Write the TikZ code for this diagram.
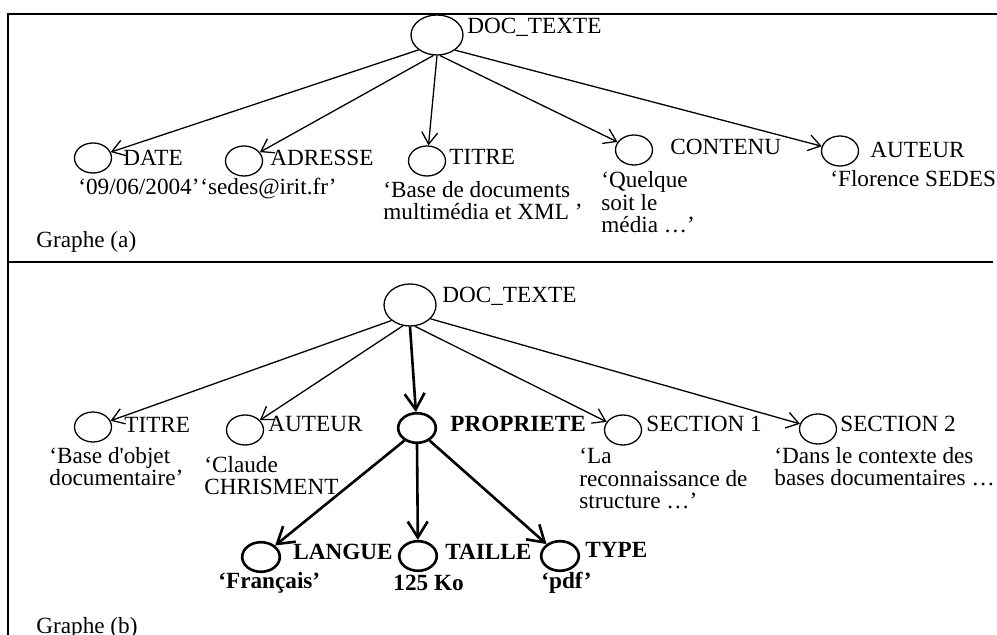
\documentclass[tikz,border=0pt]{standalone}
\usepackage{fontspec}
\setmainfont{Liberation Serif}
\usetikzlibrary{shapes.geometric,arrows.meta,positioning}
\begin{document}
\begin{tikzpicture}[x=0.5pt,y=-0.5pt,
  font=\fontsize{11.6}{11.4}\selectfont,
  obj/.style={draw,ellipse,line width=.65pt,inner sep=0pt,
    minimum width=18.5pt,minimum height=15pt},
  racine/.style={obj,minimum width=26pt,minimum height=20pt},
  prop/.style={obj,line width=1.3pt,minimum width=18.8pt,minimum height=14.8pt},
  txt/.style={inner sep=0pt,anchor=base west,align=left},
  txtgras/.style={txt,font=\fontsize{11.6}{11.4}\selectfont\bfseries},
  arc/.style={line width=.65pt,-{Straight Barb[length=6pt,width=8pt]}},
  arcfort/.style={line width=1.3pt,-{Straight Barb[length=8pt,width=10pt]}}]
  \useasboundingbox (0,0) rectangle (997,635);
  \draw[line width=1pt] (997,14) -- (8,14) -- (8,640);
  \draw[line width=1pt] (8,262) -- (993,262);
  % Graphe (a)
  \node[racine] (docA) at (437,35) {};
  \node[txt] (docAtxt) at (467,34) {DOC\_TEXTE};
  \node[obj] (date) at (93,158) {};
  \node[txt] (datetxt) at (123,166) {DATE};
  \node[txt] (dateval) at (78,195) {‘09/06/2004’};
  \node[obj] (adresse) at (244,161) {};
  \node[txt] (adressetxt) at (270,166) {ADRESSE};
  \node[txt] (adresseval) at (200,195) {‘sedes@irit.fr’};
  \node[obj] (titreA) at (427,161) {};
  \node[txt] (titreAtxt) at (449,165) {TITRE};
  \node[txt] (titreAval) at (383,220) {‘Base de documents\\multimédia et XML ’};
  \node[obj] (contenu) at (634,150) {};
  \node[txt] (contenutxt) at (670,155) {CONTENU};
  \node[txt] (contenuval) at (601,233) {‘Quelque\\soit le\\média …’};
  \node[obj] (auteurA) at (840,151) {};
  \node[txt] (auteurAtxt) at (870,158) {AUTEUR};
  \node[txt] (auteurAval) at (830,187) {‘Florence SEDES’};
  \node[txt] (grapheA) at (36,248) {Graphe (a)};
  \draw[arc] (docA.219) -- (date);
  \draw[arc] (docA.260) -- (adresse);
  \draw[arc] (docA.south) -- (titreA);
  \draw[arc] (docA.278) -- (contenu);
  \draw[arc] (docA.320) -- (auteurA);
  % Graphe (b)
  \node[racine,minimum height=21pt] (docB) at (410,305) {};
  \node[txt] (docBtxt) at (442,303) {DOC\_TEXTE};
  \node[obj] (titreB) at (93,427) {};
  \node[txt] (titreBtxt) at (124,433) {TITRE};
  \node[txt] (titreBval) at (49,486) {‘Base d\textquotesingle objet\\documentaire’};
  \node[obj] (auteurB) at (245,430) {};
  \node[txt] (auteurBtxt) at (268,432) {AUTEUR};
  \node[txt] (auteurBval) at (204,495) {‘Claude\\CHRISMENT};
  \node[prop] (propriete) at (417,428) {};
  \node[txtgras] (proprietetxt) at (450,432) {PROPRIETE};
  \node[obj] (section1) at (623,430) {};
  \node[txt] (section1txt) at (646,432) {SECTION 1};
  \node[txt] (section1val) at (579,509) {‘La\\reconnaissance de\\structure …’};
  \node[obj] (section2) at (818,429) {};
  \node[txt] (section2txt) at (840,432) {SECTION 2};
  \node[txt] (section2val) at (774,486) {‘Dans le contexte des\\bases documentaires …};
  \node[prop] (langue) at (261,557) {};
  \node[txtgras] (languetxt) at (293,560) {LANGUE};
  \node[txtgras] (langueval) at (218,589) {‘Français’};
  \node[prop] (taille) at (418,556) {};
  \node[txtgras] (tailletxt) at (445,560) {TAILLE};
  \node[txtgras] (tailleval) at (393,591) {125 Ko};
  \node[prop] (type) at (560,556) {};
  \node[txtgras] (typetxt) at (585,558) {TYPE};
  \node[txtgras] (typeval) at (541,589) {‘pdf’};
  \node[txt] (grapheB) at (36,634) {Graphe (b)};
  \draw[arc] (docB.220) -- (titreB);
  \draw[arc] (docB.251) -- (auteurB);
  \draw[arcfort] (docB.south) -- (propriete);
  \draw[arc] (docB.283) -- (section1);
  \draw[arc] (docB.326) -- (section2);
  \draw[arcfort] (propriete.225) -- (langue);
  \draw[arcfort] (propriete.south) -- (taille);
  \draw[arcfort] (propriete.315) -- (type);
\end{tikzpicture}
\end{document}
